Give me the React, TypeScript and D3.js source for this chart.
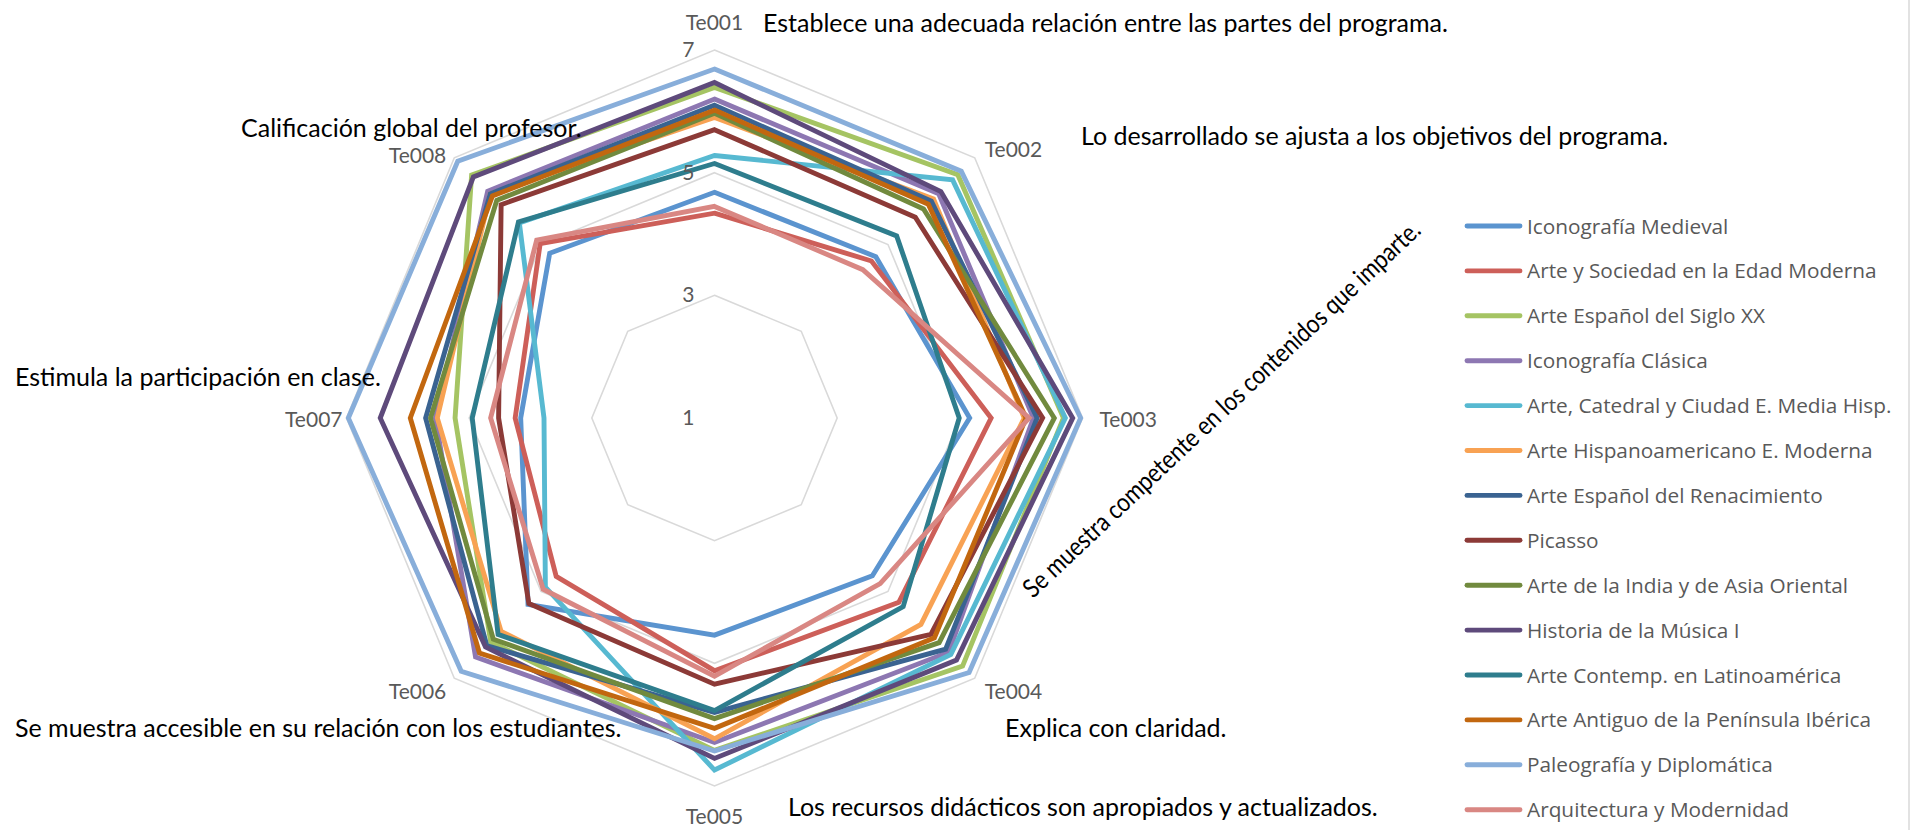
import React from 'react';
import * as d3 from 'd3';

// ---------- data ----------
const axes = ['Te001', 'Te002', 'Te003', 'Te004', 'Te005', 'Te006', 'Te007', 'Te008'];
const tickValues = [1, 3, 5, 7];
const gridValues = [3, 5, 7];

const seriesNames = [
  'Iconografía Medieval',
  'Arte y Sociedad en la Edad Moderna',
  'Arte Español del Siglo XX',
  'Iconografía Clásica',
  'Arte, Catedral y Ciudad E. Media Hisp.',
  'Arte Hispanoamericano E. Moderna',
  'Arte Español del Renacimiento',
  'Picasso',
  'Arte de la India y de Asia Oriental',
  'Historia de la Música I',
  'Arte Contemp. en Latinoamérica',
  'Arte Antiguo de la Península Ibérica',
  'Paleografía y Diplomática',
  'Arquitectura y Modernidad',
];

const iconografiaMedieval = [4.68, 4.72, 5.16, 4.64, 4.54, 5.3, 4.16, 4.8];
const arteSociedad = [4.34, 4.62, 5.51, 5.25, 5.12, 4.65, 4.25, 5.02];
const arteSigloXX = [6.39, 6.61, 6.69, 6.72, 6.42, 6.16, 5.23, 6.6];
const iconografiaClasica = [6.2, 6.17, 6.2, 6.4, 6.29, 6.51, 5.55, 6.23];
const arteCatedral = [5.28, 6.49, 6.72, 6.45, 6.74, 4.9, 3.78, 5.5];
const arteHispanoamericano = [5.9, 6.05, 6.05, 5.76, 6.23, 5.92, 5.52, 6.17];
const arteRenacimiento = [6.1, 6.0, 6.26, 6.33, 5.8, 6.25, 5.71, 6.17];
const picasso = [5.7, 5.63, 6.35, 5.99, 5.34, 5.28, 4.52, 5.92];
const arteIndia = [5.97, 5.82, 6.54, 6.18, 5.9, 6.1, 5.63, 6.02];
const historiaMusica = [6.47, 6.22, 6.84, 6.58, 6.55, 6.28, 6.45, 6.56];
const arteContemp = [5.15, 5.2, 4.99, 5.35, 5.77, 5.99, 4.95, 5.52];
const arteAntiguo = [6.02, 5.93, 6.08, 6.07, 6.06, 6.42, 5.96, 6.12];
const paleografia = [6.69, 6.69, 6.97, 6.87, 6.43, 6.84, 6.97, 6.92];
const arquitectura = [4.45, 4.42, 6.13, 4.82, 5.21, 4.95, 4.65, 5.1];

const seriesValues = [
  iconografiaMedieval, arteSociedad, arteSigloXX, iconografiaClasica, arteCatedral,
  arteHispanoamericano, arteRenacimiento, picasso, arteIndia, historiaMusica,
  arteContemp, arteAntiguo, paleografia, arquitectura,
];

const seriesColors = [
  '#5B94CF', '#CD5F59', '#A5C463', '#8D77B2', '#57B9D1', '#F8A253', '#3A6391',
  '#8C3A37', '#718A3E', '#5E4A7B', '#2E7D8D', '#C2670F', '#88AEDA', '#D98783',
];

const notes = [
  'Establece una adecuada relación entre las partes del programa.',
  'Lo desarrollado se ajusta a los objetivos del programa.',
  'Se muestra competente en los contenidos que imparte.',
  'Explica con claridad.',
  'Los recursos didácticos son apropiados y actualizados.',
  'Se muestra accesible en su relación con los estudiantes.',
  'Estimula la participación en clase.',
  'Calificación global del profesor.',
];

// ---------- layout ----------
const W = 1915;
const H = 830;
const cx = 714.5;
const cy = 418;
const R = 368;

const noteLayout = [
  { x: 763, y: 32, rot: 0 },
  { x: 1081, y: 145, rot: 0 },
  { x: 1033, y: 599, rot: -43.3 },
  { x: 1005, y: 737, rot: 0 },
  { x: 788, y: 816, rot: 0 },
  { x: 15, y: 737, rot: 0 },
  { x: 15, y: 386, rot: 0 },
  { x: 241, y: 137, rot: 0 },
];

export default function App() {
  const r = d3.scaleLinear().domain([1, 7]).range([0, R]);
  const angle = (i: number) => (i * 2 * Math.PI) / axes.length;
  const radial = d3
    .lineRadial<number>()
    .angle((_d, i) => angle(i))
    .radius((d) => r(d))
    .curve(d3.curveLinearClosed);

  const font = 'Lato, "Open Sans", sans-serif';

  const axisLabel = (name: string, i: number) => {
    const a = angle(i);
    const vx = cx + Math.sin(a) * R;
    const vy = cy - Math.cos(a) * R;
    let x = vx;
    let y = vy;
    let anchor: 'start' | 'middle' | 'end' = 'middle';
    switch (i) {
      case 0: y = vy - 20; break;
      case 1: x = vx + 10; y = vy - 1; anchor = 'start'; break;
      case 2: x = vx + 17; y = vy + 9; anchor = 'start'; break;
      case 3: x = vx + 10; y = vy + 21; anchor = 'start'; break;
      case 4: y = vy + 38; break;
      case 5: x = vx - 8; y = vy + 21; anchor = 'end'; break;
      case 6: x = vx - 4; y = vy + 9; anchor = 'end'; break;
      case 7: x = vx - 8; y = vy + 5; anchor = 'end'; break;
    }
    return (
      <text key={name} x={x} y={y} textAnchor={anchor} fontSize={21} fill="#595959" fontFamily={font}>
        {name}
      </text>
    );
  };

  const legendY0 = 226;
  const legendStep = 44.9;

  return (
    <div style={{ position: 'absolute', left: 0, top: 0, width: W, height: H, background: '#fff' }}>
      <svg width={W} height={H} style={{ display: 'block' }}>
        <rect x={0} y={0} width={W} height={H} fill="#fff" />
        <line x1={W - 6} y1={0} x2={W - 6} y2={H} stroke="#D9D9D9" strokeWidth={1.5} />
        <g transform={`translate(${cx},${cy})`}>
          {gridValues.map((g) => (
            <path key={g} d={radial(axes.map(() => g)) || ''} fill="none" stroke="#D9D9D9" strokeWidth={1.6} />
          ))}
          {seriesValues.map((vals, k) => (
            <path
              key={seriesNames[k]}
              d={radial(vals) || ''}
              fill="none"
              stroke={seriesColors[k]}
              strokeWidth={4.9}
              strokeLinejoin="miter"
            />
          ))}
          {tickValues.map((t) => (
            <text
              key={t}
              x={-20}
              y={-r(t) + 7}
              textAnchor="end"
              fontSize={21}
              fill="#595959"
              fontFamily={font}
            >
              {t}
            </text>
          ))}
        </g>
        {axes.map((a, i) => axisLabel(a, i))}
        {notes.map((n, i) => {
          const L = noteLayout[i];
          return (
            <text
              key={n}
              x={L.rot ? 0 : L.x}
              y={L.rot ? 0 : L.y}
              transform={L.rot ? `translate(${L.x},${L.y}) rotate(${L.rot})` : undefined}
              fontSize={L.rot ? 26 : 25}
              fill="#000"
              fontFamily={font}
              textLength={L.rot ? 535 : undefined}
              lengthAdjust={L.rot ? 'spacingAndGlyphs' : undefined}
            >
              {n}
            </text>
          );
        })}
        <g>
          {seriesNames.map((s, k) => {
            const y = legendY0 + k * legendStep;
            return (
              <g key={s}>
                <line x1={1467} x2={1520} y1={y} y2={y} stroke={seriesColors[k]} strokeWidth={4.9} strokeLinecap="round" />
                <text x={1527} y={y + 7.5} fontSize={20.8} fill="#595959" fontFamily='"Open Sans", sans-serif'>
                  {s}
                </text>
              </g>
            );
          })}
        </g>
      </svg>
    </div>
  );
}
